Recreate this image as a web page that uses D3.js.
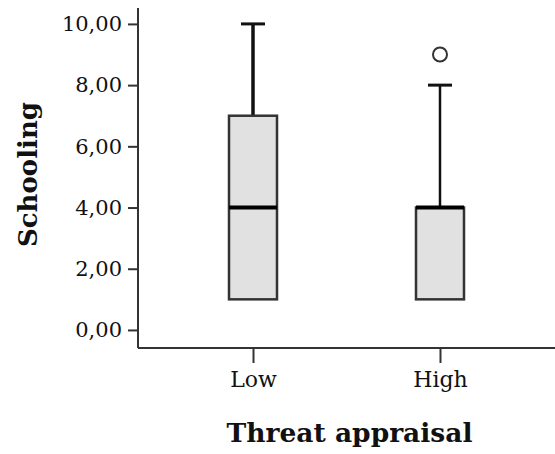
<!DOCTYPE html>
<html>
<head>
<meta charset="utf-8">
<script src="https://cdn.jsdelivr.net/npm/d3@7"></script>
<style>
  body { margin: 0; background: #fff; }
  svg text { font-family: "DejaVu Serif", serif; fill: #111; }
</style>
</head>
<body>
<div id="chart"></div>
<script>
// groups and their box-plot summaries
var groups = ['Low', 'High'];
var whiskerLow = [1, 1];
var q1 = [1, 1];
var median = [4, 4];
var q3 = [7, 4];
var whiskerHigh = [10, 8];
var outliers = [[], [9]];
var yTicks = [0, 2, 4, 6, 8, 10];

var width = 555, height = 454;
var x0 = 138, yBottom = 348, yTop = 8;

var svg = d3.select('#chart').append('svg')
  .attr('width', width)
  .attr('height', height);

var y = d3.scaleLinear()
  .domain([-0.59, 10.52])
  .range([yBottom, yTop]);

var x = d3.scalePoint()
  .domain(groups)
  .range([x0, width])
  .padding(0.615);

var boxW = 48, capW = 24;

// y axis
var yAxis = svg.append('g')
  .attr('transform', 'translate(' + x0 + ',0)')
  .call(d3.axisLeft(y).tickValues(yTicks).tickSize(10).tickPadding(6)
    .tickFormat(function(d) { return d3.format('.2f')(d).replace('.', ','); }));
yAxis.select('.domain').attr('d', 'M0,' + yTop + 'V' + yBottom);
yAxis.selectAll('line, path').attr('stroke', '#333').attr('stroke-width', 2);
yAxis.selectAll('text').style('font-size', '21px').attr('fill', '#111');

// x axis
var xAxis = svg.append('g')
  .attr('transform', 'translate(0,' + yBottom + ')')
  .call(d3.axisBottom(x).tickSize(15).tickPadding(8));
xAxis.select('.domain').attr('d', 'M' + x0 + ',0H' + width);
xAxis.selectAll('line, path').attr('stroke', '#333').attr('stroke-width', 2);
xAxis.selectAll('text').style('font-size', '22px').attr('fill', '#111');

// boxes
var box = svg.selectAll('.box')
  .data(groups)
  .enter().append('g')
    .attr('class', 'box');

box.append('line')
  .attr('x1', function(d) { return x(d); })
  .attr('x2', function(d) { return x(d); })
  .attr('y1', function(d, i) { return y(q3[i]); })
  .attr('y2', function(d, i) { return y(whiskerHigh[i]); })
  .attr('stroke', '#111')
  .attr('stroke-width', function(d, i) { return i == 0 ? 3.5 : 2.5; });

box.append('line')
  .attr('x1', function(d) { return x(d) - capW / 2; })
  .attr('x2', function(d) { return x(d) + capW / 2; })
  .attr('y1', function(d, i) { return y(whiskerHigh[i]); })
  .attr('y2', function(d, i) { return y(whiskerHigh[i]); })
  .attr('stroke', '#111')
  .attr('stroke-width', 3);

box.append('rect')
  .attr('x', function(d) { return x(d) - boxW / 2; })
  .attr('y', function(d, i) { return y(q3[i]); })
  .attr('width', boxW)
  .attr('height', function(d, i) { return y(q1[i]) - y(q3[i]); })
  .attr('fill', '#e1e1e1')
  .attr('stroke', '#333')
  .attr('stroke-width', 2.5);

box.append('line')
  .attr('x1', function(d) { return x(d) - boxW / 2; })
  .attr('x2', function(d) { return x(d) + boxW / 2; })
  .attr('y1', function(d, i) { return y(median[i]); })
  .attr('y2', function(d, i) { return y(median[i]); })
  .attr('stroke', '#000')
  .attr('stroke-width', 4);

// outliers
box.selectAll('.outlier')
  .data(function(d, i) { return outliers[i].map(function(v) { return {g: d, v: v}; }); })
  .enter().append('circle')
    .attr('class', 'outlier')
    .attr('cx', function(d) { return x(d.g); })
    .attr('cy', function(d) { return y(d.v); })
    .attr('r', 7)
    .attr('fill', 'none')
    .attr('stroke', '#333')
    .attr('stroke-width', 2);

// axis titles
svg.append('text')
  .attr('transform', 'translate(37,174.5) rotate(-90)')
  .attr('text-anchor', 'middle')
  .style('font-size', '26px')
  .style('font-weight', 'bold')
  .text('Schooling');

svg.append('text')
  .attr('x', (x0 + width) / 2 + 3)
  .attr('y', 442)
  .attr('text-anchor', 'middle')
  .style('font-size', '26.5px')
  .style('font-weight', 'bold')
  .text('Threat appraisal');
</script>
</body>
</html>
